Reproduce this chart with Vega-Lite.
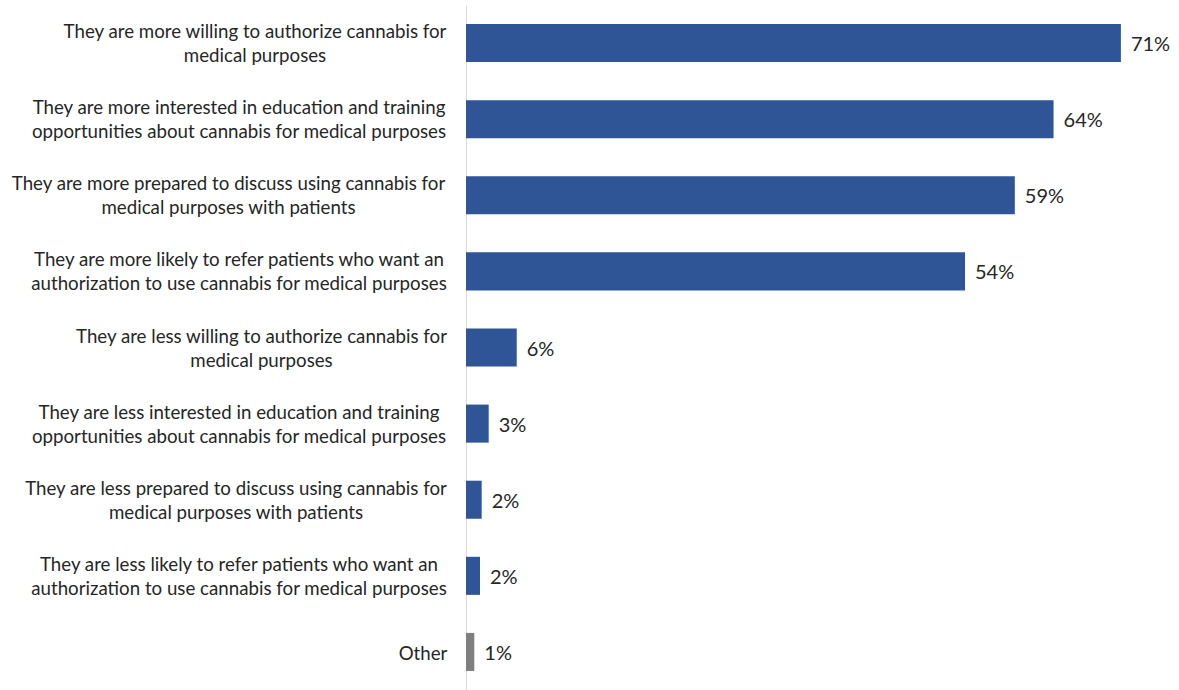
{
  "$schema": "https://vega.github.io/schema/vega-lite/v6.json",
  "autosize": "none",
  "width": 713,
  "height": 685,
  "padding": {"left": 466, "top": 5, "right": 0, "bottom": 0},
  "background": "white",
  "config": {"view": {"stroke": null}, "font": "Lato"},
  "data": {
    "values": [
      {"label": "They are more willing to authorize cannabis for|medical purposes", "value": 0.71, "text": "71%", "group": "main"},
      {"label": "They are more interested in education and training|opportunities about cannabis for medical purposes", "value": 0.637, "text": "64%", "group": "main"},
      {"label": "They are more prepared to discuss using cannabis for|medical purposes with patients", "value": 0.595, "text": "59%", "group": "main"},
      {"label": "They are more likely to refer patients who want an|authorization to use cannabis for medical purposes", "value": 0.541, "text": "54%", "group": "main"},
      {"label": "They are less willing to authorize cannabis for|medical purposes", "value": 0.055, "text": "6%", "group": "main"},
      {"label": "They are less interested in education and training |opportunities about cannabis for medical purposes", "value": 0.0246, "text": "3%", "group": "main"},
      {"label": "They are less prepared to discuss using cannabis for|medical purposes with patients", "value": 0.017, "text": "2%", "group": "main"},
      {"label": "They are less likely to refer patients who want an|authorization to use cannabis for medical purposes", "value": 0.0152, "text": "2%", "group": "main"},
      {"label": "Other", "value": 0.009, "text": "1%", "group": "other"}
    ]
  },
  "encoding": {
    "y": {
      "field": "label",
      "type": "nominal",
      "sort": null,
      "scale": {"paddingInner": 0.5, "paddingOuter": 0.25},
      "axis": {
        "title": null,
        "ticks": false,
        "domainColor": "#d9d9d9",
        "domainWidth": 1,
        "labelExpr": "split(datum.label, '|')",
        "labelFontSize": 18.7,
        "labelColor": "#262626",
        "labelPadding": {"expr": "[211.5, 227.5, 238, 227.5, 205, 227.5, 230.5, 227.5, 43.5][round(datum.index * 8)]"},
        "labelOffset": {"expr": "round(datum.index * 8) == 8 ? 2 : -11"},
        "labelLineHeight": 24,
        "labelAlign": "center",
        "labelLimit": 0
      }
    },
    "x": {
      "field": "value",
      "type": "quantitative",
      "scale": {"domain": [0, 0.773], "nice": false, "zero": true},
      "axis": null
    }
  },
  "layer": [
    {
      "mark": {"type": "bar"},
      "encoding": {
        "color": {
          "field": "group",
          "type": "nominal",
          "scale": {"domain": ["main", "other"], "range": ["#2f5597", "#7f7f7f"]},
          "legend": null
        }
      }
    },
    {
      "mark": {"type": "text", "align": "left", "dx": 10, "dy": 2, "fontSize": 20, "color": "#262626"},
      "encoding": {
        "text": {"field": "text", "type": "nominal"}
      }
    }
  ]
}
